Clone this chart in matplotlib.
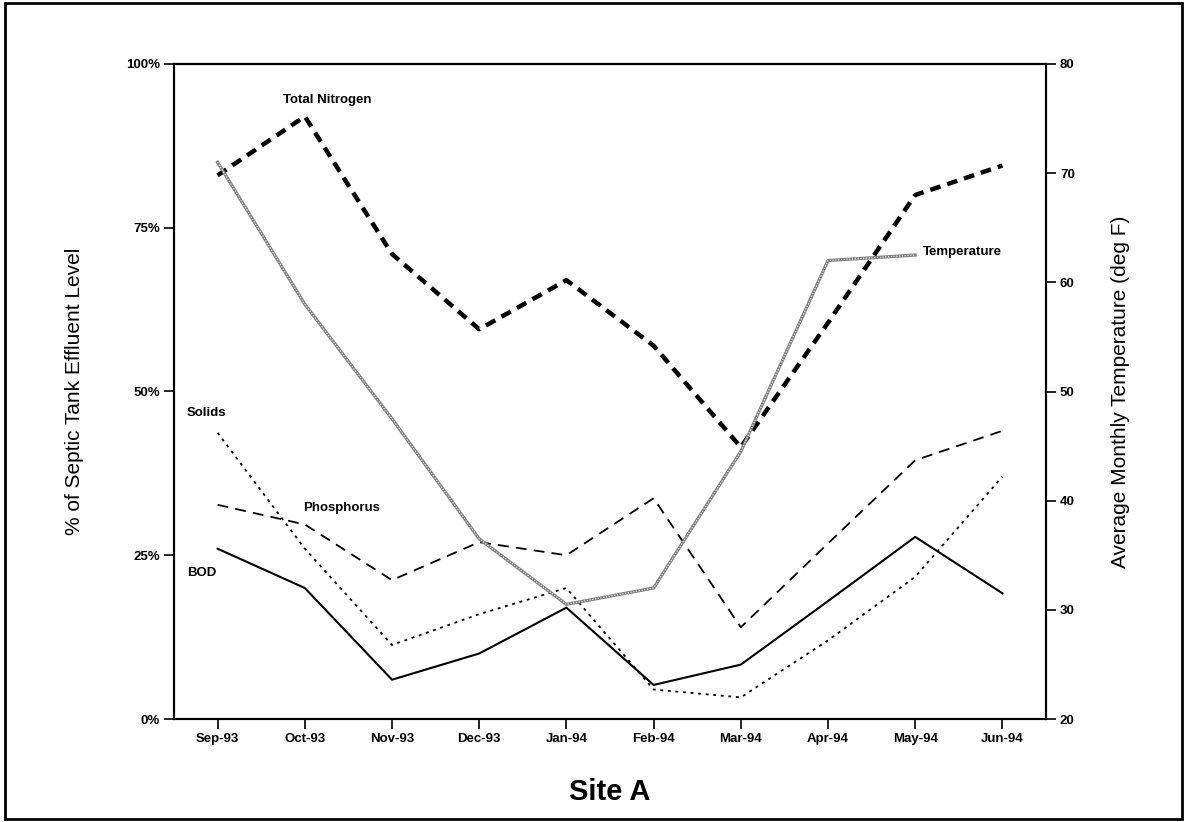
import matplotlib
matplotlib.use('Agg')
import matplotlib.pyplot as plt
from matplotlib.patches import Rectangle

plt.rcParams['font.family'] = ['Liberation Sans', 'DejaVu Sans']

months = ['Sep-93', 'Oct-93', 'Nov-93', 'Dec-93', 'Jan-94',
          'Feb-94', 'Mar-94', 'Apr-94', 'May-94', 'Jun-94']
# % of septic tank effluent level
total_nitrogen = [83, 92, 71, 59.5, 67, 57, 41.5, 60.5, 80, 84.5]
phosphorus = [32.7, 29.7, 21.2, 27, 25, 33.7, 14, 26.8, 39.5, 44]
solids = [43.7, 26, 11.3, 16, 20, 4.5, 3.3, 12, 21.7, 37]
bod = [26, 20, 6, 10, 17, 5.2, 8.3, 18, 27.8, 19.2]
# average monthly temperature (deg F), no value for Jun-94
temperature = [71, 58, 47.5, 36.5, 30.5, 32, 44.5, 62, 62.5]

x = list(range(len(months)))

fig = plt.figure(figsize=(11.87, 8.22), dpi=100)
ax = fig.add_axes([174/1187, 1 - 719/822, 872/1187, 655/822])
ax2 = ax.twinx()

ax.plot(x, total_nitrogen, color='black', lw=3.2, dashes=(2.4, 1.6))
ax.plot(x, phosphorus, color='black', lw=1.3, dashes=(6, 4))
ax.plot(x, solids, color='black', lw=1.3, dashes=(1.6, 2.6))
ax.plot(x, bod, color='black', lw=1.5)
ax2.plot(x[:len(temperature)], temperature, color='0.5', lw=2.3)
ax2.plot(x[:len(temperature)], temperature, color='white', lw=0.8, dashes=(1, 1.5))

ax.set_xlim(-0.5, 9.5)
ax.set_ylim(0, 100)
ax2.set_ylim(20, 80)

ax.set_xticks(x)
ax.set_xticklabels(months)
ax.set_yticks([0, 25, 50, 75, 100])
ax.set_yticklabels(['0%', '25%', '50%', '75%', '100%'])
ax2.set_yticks([20, 30, 40, 50, 60, 70, 80])

for a in (ax, ax2):
    a.tick_params(direction='out', length=7, width=1.2, labelsize=9.5, pad=3)
    for lab in a.get_xticklabels() + a.get_yticklabels():
        lab.set_fontweight('bold')
    for s in a.spines.values():
        s.set_linewidth(1.5)

ax.set_ylabel('% of Septic Tank Effluent Level', fontsize=15, labelpad=30)
ax2.set_ylabel('Average Monthly Temperature (deg F)', fontsize=15, labelpad=26)
ax.set_xlabel('Site A', fontsize=21, fontweight='bold', labelpad=24)

# series labels
lab_kw = dict(fontsize=9.5, fontweight='bold', va='center')
ax.text(0.75, 94.5, 'Total Nitrogen', **lab_kw)
ax.text(8.09, 71.3, 'Temperature', **lab_kw)
ax.text(-0.35, 46.7, 'Solids', **lab_kw)
ax.text(0.98, 32.2, 'Phosphorus', **lab_kw)
ax.text(-0.35, 22.3, 'BOD', **lab_kw)

# outer frame
fig.patches.append(Rectangle((0.004, 0.004), 0.992, 0.992, transform=fig.transFigure,
                             fill=False, lw=2, edgecolor='black'))

fig.savefig('out.png', dpi=100)
